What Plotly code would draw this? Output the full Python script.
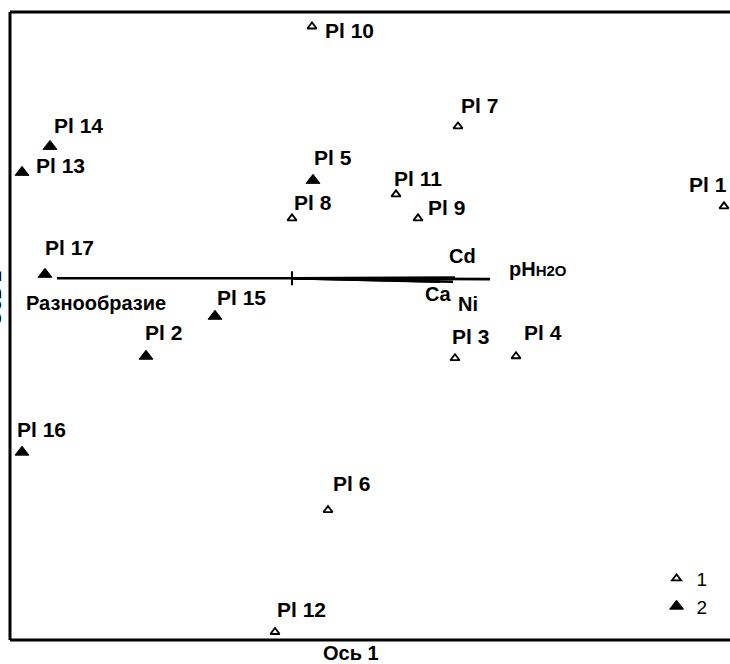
import plotly.graph_objects as go

# Ordination scores of the sample plots (axis 1, axis 2)
group1_labels = ["Pl 1", "Pl 3", "Pl 4", "Pl 6", "Pl 7", "Pl 8", "Pl 9", "Pl 10", "Pl 11", "Pl 12"]
group1_ax1 = [2.16, 0.815, 1.12, 0.18, 0.83, 0.0, 0.63, 0.10, 0.52, -0.085]
group1_ax2 = [0.36, -0.40, -0.39, -1.16, 0.76, 0.30, 0.30, 1.26, 0.42, -1.77]

group2_labels = ["Pl 2", "Pl 5", "Pl 13", "Pl 14", "Pl 15", "Pl 16", "Pl 17"]
group2_ax1 = [-0.73, 0.105, -1.35, -1.21, -0.385, -1.35, -1.235]
group2_ax2 = [-0.39, 0.49, 0.53, 0.66, -0.19, -0.87, 0.02]

# Environmental variable vectors (end points, starting at the origin)
env_names = ["Разнообразие", "Cd", "Ca", "Ni", "pH"]
env_ax1 = [-1.175, 0.815, 0.74, 0.805, 0.99]
env_ax2 = [0.0, 0.004, -0.017, -0.017, -0.004]

legend_names = ["1", "2"]
axis_titles = ["Ось 1", "Ось 2"]

# Label placement offsets in pixels (xshift, yshift)
label_offsets = {
    "Pl 1": (-16, 22), "Pl 3": (15, 22), "Pl 4": (27, 24), "Pl 6": (23, 27),
    "Pl 7": (21, 21), "Pl 8": (21, 16), "Pl 9": (28, 11), "Pl 10": (37, -4),
    "Pl 11": (22, 16), "Pl 12": (26, 23), "Pl 2": (17, 24), "Pl 5": (20, 23),
    "Pl 13": (38, 7), "Pl 14": (28, 21), "Pl 15": (26, 19), "Pl 16": (19, 23),
    "Pl 17": (24, 27),
}
env_offsets = {
    "Разнообразие": (39, -25), "Cd": (7, 21), "Ca": (-2, -12),
    "Ni": (15, -22), "pH": (17, 10),
}

FONT = "Liberation Sans, Arial, sans-serif"
bold = dict(family=FONT, size=20, color="black", weight="bold")
label_font = dict(family=FONT, size=21, color="black", weight="bold")

fig = go.Figure()

# Vectors from the origin
for name, ex, ey in zip(env_names, env_ax1, env_ax2):
    fig.add_trace(go.Scatter(
        x=[0, ex], y=[0, ey], mode="lines",
        line=dict(color="black", width=2.6), showlegend=False, hoverinfo="skip",
    ))

# Origin tick
fig.add_trace(go.Scatter(
    x=[0], y=[0], mode="markers", showlegend=False, hoverinfo="skip",
    marker=dict(symbol="line-ns-open", size=10, color="black",
                line=dict(color="black", width=2)),
))

fig.add_trace(go.Scatter(
    x=group1_ax1, y=group1_ax2, mode="markers", name=legend_names[0],
    marker=dict(symbol="triangle-up-open", size=8, color="black",
                line=dict(color="black", width=1.8)),
))
fig.add_trace(go.Scatter(
    x=group2_ax1, y=group2_ax2, mode="markers", name=legend_names[1],
    marker=dict(symbol="triangle-up", size=12, color="black",
                line=dict(color="black", width=1)),
))

annotations = []
for labels, xs, ys in ((group1_labels, group1_ax1, group1_ax2),
                       (group2_labels, group2_ax1, group2_ax2)):
    for lab, x, y in zip(labels, xs, ys):
        dx, dy = label_offsets[lab]
        annotations.append(dict(x=x, y=y, xref="x", yref="y", text=lab,
                                showarrow=False, xshift=dx, yshift=dy, font=label_font))

for name, ex, ey in zip(env_names, env_ax1, env_ax2):
    dx, dy = env_offsets[name]
    if name == "pH":
        annotations.append(dict(
            x=ex, y=ey, xref="x", yref="y", showarrow=False, xanchor="left",
            text="pH<span style='font-size:15px'>H2O</span>",
            xshift=dx, yshift=dy, font=dict(family=FONT, size=20, color="black", weight="bold"),
        ))
    else:
        annotations.append(dict(x=ex, y=ey, xref="x", yref="y", text=name,
                                showarrow=False, xshift=dx, yshift=dy, font=bold))

annotations.append(dict(x=0.474, y=0, xref="paper", yref="paper", text=axis_titles[0],
                        showarrow=False, yanchor="top", yshift=-1, borderpad=0,
                        font=bold))
annotations.append(dict(x=0, y=0.544, xref="paper", yref="paper", text=axis_titles[1],
                        showarrow=False, textangle=-90, xanchor="right", xshift=-3,
                        font=bold))

# Frame: left, top and bottom edges of the plotting area
frame = dict(type="line", xref="paper", yref="paper", line=dict(color="black", width=3))
shapes = [
    dict(frame, x0=0, x1=0, y0=0, y1=1),
    dict(frame, x0=0, x1=1.01, y0=1, y1=1),
    dict(frame, x0=0, x1=1.01, y0=0, y1=0),
]

fig.update_layout(
    width=730, height=664,
    margin=dict(l=10, r=0, t=12, b=24),
    paper_bgcolor="white", plot_bgcolor="white",
    annotations=annotations,
    shapes=shapes,
    showlegend=True,
    legend=dict(x=0.898, y=0.128, xanchor="left", yanchor="top",
                bgcolor="rgba(0,0,0,0)", itemsizing="trace",
                font=dict(family=FONT, size=19, color="black"),
                tracegroupgap=0),
    xaxis=dict(range=[-1.41, 2.19], showgrid=False, zeroline=False,
               showticklabels=False, ticks="", showline=False),
    yaxis=dict(range=[-1.81, 1.3325], showgrid=False, zeroline=False,
               showticklabels=False, ticks="", showline=False),
)

fig.write_html("out.html")
